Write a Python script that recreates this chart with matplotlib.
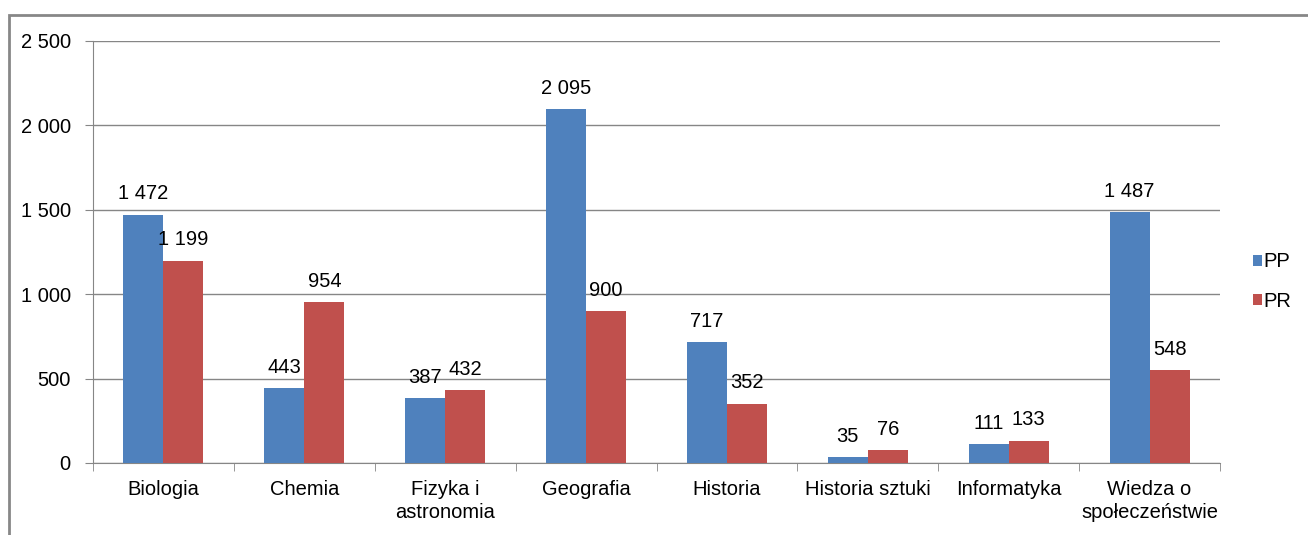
import numpy as np
import matplotlib.pyplot as plt
from matplotlib.patches import Rectangle

plt.rcParams['font.family'] = ['Liberation Sans', 'DejaVu Sans']

# data
categories = ["Biologia", "Chemia", "Fizyka i\nastronomia", "Geografia", "Historia",
              "Historia sztuki", "Informatyka", "Wiedza o\nspołeczeństwie"]
pp_vals = [1472, 443, 387, 2095, 717, 35, 111, 1487]
pr_vals = [1199, 954, 432, 900, 352, 76, 133, 548]
series_names = ["PP", "PR"]
yticks = [0, 500, 1000, 1500, 2000, 2500]

blue = "#4F81BD"
red = "#C0504D"
fs = 14.5


def fmt(v):
    return "{:,}".format(v).replace(",", " ")


fig = plt.figure(figsize=(13.08, 5.35), dpi=100)

# outer chart frame
frame = Rectangle((9 / 1308, -0.1), 1.2, (535 - 15) / 535 + 0.1, transform=fig.transFigure,
                  fill=False, edgecolor="#878787", linewidth=2, zorder=0)
fig.patches.append(frame)

ax = fig.add_axes([93 / 1308, 72 / 535, (1220 - 93) / 1308, (463 - 41) / 535])

x = np.arange(len(categories))
w = 0.284
b1 = ax.bar(x - w / 2, pp_vals, w, color=blue, label=series_names[0], zorder=3)
b2 = ax.bar(x + w / 2, pr_vals, w, color=red, label=series_names[1], zorder=3)

for bars, vals in ((b1, pp_vals), (b2, pr_vals)):
    for rect, v in zip(bars, vals):
        ax.annotate(fmt(v), (rect.get_x() + rect.get_width() / 2, rect.get_height()),
                    xytext=(0, 8), textcoords="offset points", ha="center", va="bottom",
                    fontsize=fs, color="black", zorder=4)

ax.set_xlim(-0.5, len(categories) - 0.5)
ax.set_ylim(0, 2500)
ax.set_yticks(yticks)
ax.set_yticklabels([fmt(t) for t in yticks], fontsize=fs)
ax.yaxis.grid(True, color="#868686", linewidth=1)
ax.set_axisbelow(True)

ax.set_xticks(x)
ax.set_xticklabels(categories, fontsize=fs, linespacing=1.3)
ax.tick_params(axis="x", length=0, pad=12)
ax.set_xticks(np.arange(len(categories) + 1) - 0.5, minor=True)
ax.tick_params(axis="x", which="minor", length=6, color="#868686")
ax.tick_params(axis="y", length=6, color="#868686", pad=10)

for s in ["top", "right"]:
    ax.spines[s].set_visible(False)
for s in ["left", "bottom"]:
    ax.spines[s].set_color("#868686")

ax.legend(loc="center left", bbox_to_anchor=(1.013, 0.43), frameon=False, fontsize=fs,
          handlelength=0.45, handleheight=0.45, handletextpad=0.1, labelspacing=1.0)

fig.savefig("out.png", dpi=100)
